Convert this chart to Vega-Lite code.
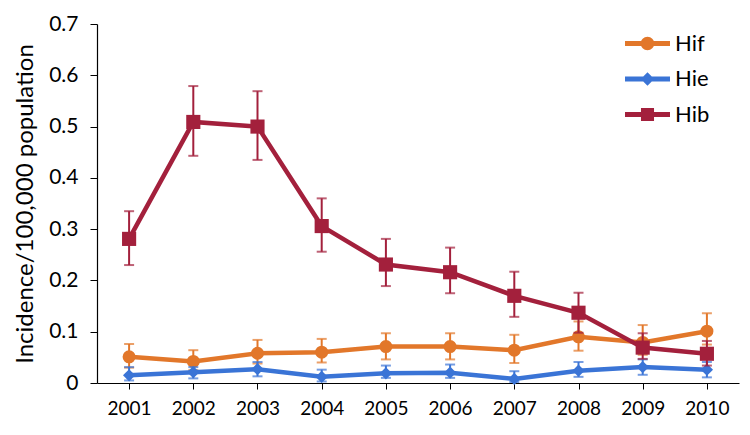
{
  "$schema": "https://vega.github.io/schema/vega-lite/v6.json",
  "width": 642,
  "height": 359,
  "autosize": "none",
  "padding": {"left": 97, "top": 24, "right": 11, "bottom": 52},
  "background": "white",
  "config": {
    "font": "Lato",
    "view": {"stroke": null},
    "axis": {"domainColor": "black", "tickColor": "black", "labelColor": "black", "titleColor": "black", "grid": false}
  },
  "data": {
    "values": [
      {"series": "Hif", "year": "2001", "value": 0.051, "lo": 0.030, "hi": 0.076},
      {"series": "Hif", "year": "2002", "value": 0.042, "lo": 0.025, "hi": 0.064},
      {"series": "Hif", "year": "2003", "value": 0.058, "lo": 0.038, "hi": 0.084},
      {"series": "Hif", "year": "2004", "value": 0.060, "lo": 0.040, "hi": 0.086},
      {"series": "Hif", "year": "2005", "value": 0.071, "lo": 0.046, "hi": 0.097},
      {"series": "Hif", "year": "2006", "value": 0.071, "lo": 0.046, "hi": 0.097},
      {"series": "Hif", "year": "2007", "value": 0.064, "lo": 0.039, "hi": 0.094},
      {"series": "Hif", "year": "2008", "value": 0.090, "lo": 0.063, "hi": 0.120},
      {"series": "Hif", "year": "2009", "value": 0.079, "lo": 0.055, "hi": 0.113},
      {"series": "Hif", "year": "2010", "value": 0.101, "lo": 0.075, "hi": 0.136},
      {"series": "Hie", "year": "2001", "value": 0.015, "lo": 0.005, "hi": 0.031},
      {"series": "Hie", "year": "2002", "value": 0.021, "lo": 0.009, "hi": 0.031},
      {"series": "Hie", "year": "2003", "value": 0.027, "lo": 0.013, "hi": 0.041},
      {"series": "Hie", "year": "2004", "value": 0.012, "lo": 0.003, "hi": 0.026},
      {"series": "Hie", "year": "2005", "value": 0.019, "lo": 0.010, "hi": 0.034},
      {"series": "Hie", "year": "2006", "value": 0.020, "lo": 0.010, "hi": 0.036},
      {"series": "Hie", "year": "2007", "value": 0.008, "lo": 0.002, "hi": 0.023},
      {"series": "Hie", "year": "2008", "value": 0.024, "lo": 0.012, "hi": 0.041},
      {"series": "Hie", "year": "2009", "value": 0.031, "lo": 0.016, "hi": 0.046},
      {"series": "Hie", "year": "2010", "value": 0.026, "lo": 0.011, "hi": 0.041},
      {"series": "Hib", "year": "2001", "value": 0.281, "lo": 0.230, "hi": 0.335},
      {"series": "Hib", "year": "2002", "value": 0.509, "lo": 0.443, "hi": 0.579},
      {"series": "Hib", "year": "2003", "value": 0.500, "lo": 0.435, "hi": 0.569},
      {"series": "Hib", "year": "2004", "value": 0.306, "lo": 0.256, "hi": 0.360},
      {"series": "Hib", "year": "2005", "value": 0.231, "lo": 0.189, "hi": 0.281},
      {"series": "Hib", "year": "2006", "value": 0.216, "lo": 0.175, "hi": 0.264},
      {"series": "Hib", "year": "2007", "value": 0.170, "lo": 0.129, "hi": 0.217},
      {"series": "Hib", "year": "2008", "value": 0.137, "lo": 0.098, "hi": 0.176},
      {"series": "Hib", "year": "2009", "value": 0.069, "lo": 0.047, "hi": 0.097},
      {"series": "Hib", "year": "2010", "value": 0.057, "lo": 0.034, "hi": 0.082}
    ]
  },
  "encoding": {
    "x": {
      "field": "year", "type": "ordinal",
      "scale": {"type": "point", "padding": 0.5},
      "axis": {"title": null, "labelAngle": 0, "labelFontSize": 19, "tickSize": 6, "labelPadding": 10, "domainWidth": 1.2}
    },
    "y": {
      "field": "value", "type": "quantitative",
      "title": "Incidence/100,000 population",
      "scale": {"domain": [0, 0.7], "nice": false, "zero": true},
      "axis": {
        "titleFontSize": 24, "titleFontWeight": "normal", "titlePadding": 11,
        "values": [0, 0.1, 0.2, 0.3, 0.4, 0.5, 0.6, 0.7], "format": ".1~f",
        "labelFontSize": 21, "tickSize": 7, "labelPadding": 12, "domainWidth": 1.2
      }
    },
    "color": {
      "field": "series", "type": "nominal",
      "scale": {"domain": ["Hif", "Hie", "Hib"], "range": ["#E2772A", "#3A74D6", "#A3203C"]},
      "legend": {
        "title": null, "orient": "none", "legendX": 528, "legendY": -3,
        "labelFontSize": 22, "labelColor": "black", "labelOffset": 5,
        "symbolSize": 2025, "rowPadding": 1.5, "padding": 0,
        "encode": {
          "symbols": {
            "update": {
              "shape": {"signal": "datum.value === 'Hif' ? 'M-1,-0.11H1V0.11H-1Z M-0.3,0A0.3,0.3,0,1,1,0.3,0A0.3,0.3,0,1,1,-0.3,0Z' : datum.value === 'Hie' ? 'M-1,-0.11H1V0.11H-1Z M0,-0.3L0.3,0L0,0.3L-0.3,0Z' : 'M-1,-0.11H1V0.11H-1Z M-0.29,-0.29H0.29V0.29H-0.29Z'"},
              "fill": {"scale": "color", "field": "value"},
              "stroke": {"value": "transparent"},
              "strokeWidth": {"value": 0},
              "size": {"value": 2025},
              "opacity": {"value": 1}
            }
          }
        }
      }
    }
  },
  "layer": [
    {
      "transform": [{"filter": "datum.series === 'Hif'"}],
      "layer": [
        {"mark": {"type": "rule", "strokeWidth": 2}, "encoding": {"y": {"field": "lo", "type": "quantitative", "title": "Incidence/100,000 population"}, "y2": {"field": "hi"}}},
        {"mark": {"type": "tick", "size": 10, "thickness": 2}, "encoding": {"y": {"field": "lo", "type": "quantitative", "title": "Incidence/100,000 population"}}},
        {"mark": {"type": "tick", "size": 10, "thickness": 2}, "encoding": {"y": {"field": "hi", "type": "quantitative", "title": "Incidence/100,000 population"}}},
        {"mark": {"type": "line", "strokeWidth": 4.5}},
        {"mark": {"type": "point", "filled": true, "opacity": 1, "shape": "circle", "size": 170}}
      ]
    },
    {
      "transform": [{"filter": "datum.series === 'Hie'"}],
      "layer": [
        {"mark": {"type": "rule", "strokeWidth": 2}, "encoding": {"y": {"field": "lo", "type": "quantitative", "title": "Incidence/100,000 population"}, "y2": {"field": "hi"}}},
        {"mark": {"type": "tick", "size": 10, "thickness": 2}, "encoding": {"y": {"field": "lo", "type": "quantitative", "title": "Incidence/100,000 population"}}},
        {"mark": {"type": "tick", "size": 10, "thickness": 2}, "encoding": {"y": {"field": "hi", "type": "quantitative", "title": "Incidence/100,000 population"}}},
        {"mark": {"type": "line", "strokeWidth": 4.5}},
        {"mark": {"type": "point", "filled": true, "opacity": 1, "shape": "diamond", "size": 150}}
      ]
    },
    {
      "transform": [{"filter": "datum.series === 'Hib'"}],
      "layer": [
        {"mark": {"type": "rule", "strokeWidth": 2}, "encoding": {"y": {"field": "lo", "type": "quantitative", "title": "Incidence/100,000 population"}, "y2": {"field": "hi"}}},
        {"mark": {"type": "tick", "size": 10, "thickness": 2}, "encoding": {"y": {"field": "lo", "type": "quantitative", "title": "Incidence/100,000 population"}}},
        {"mark": {"type": "tick", "size": 10, "thickness": 2}, "encoding": {"y": {"field": "hi", "type": "quantitative", "title": "Incidence/100,000 population"}}},
        {"mark": {"type": "line", "strokeWidth": 4.5}},
        {"mark": {"type": "point", "filled": true, "opacity": 1, "shape": "square", "size": 200}}
      ]
    }
  ]
}
